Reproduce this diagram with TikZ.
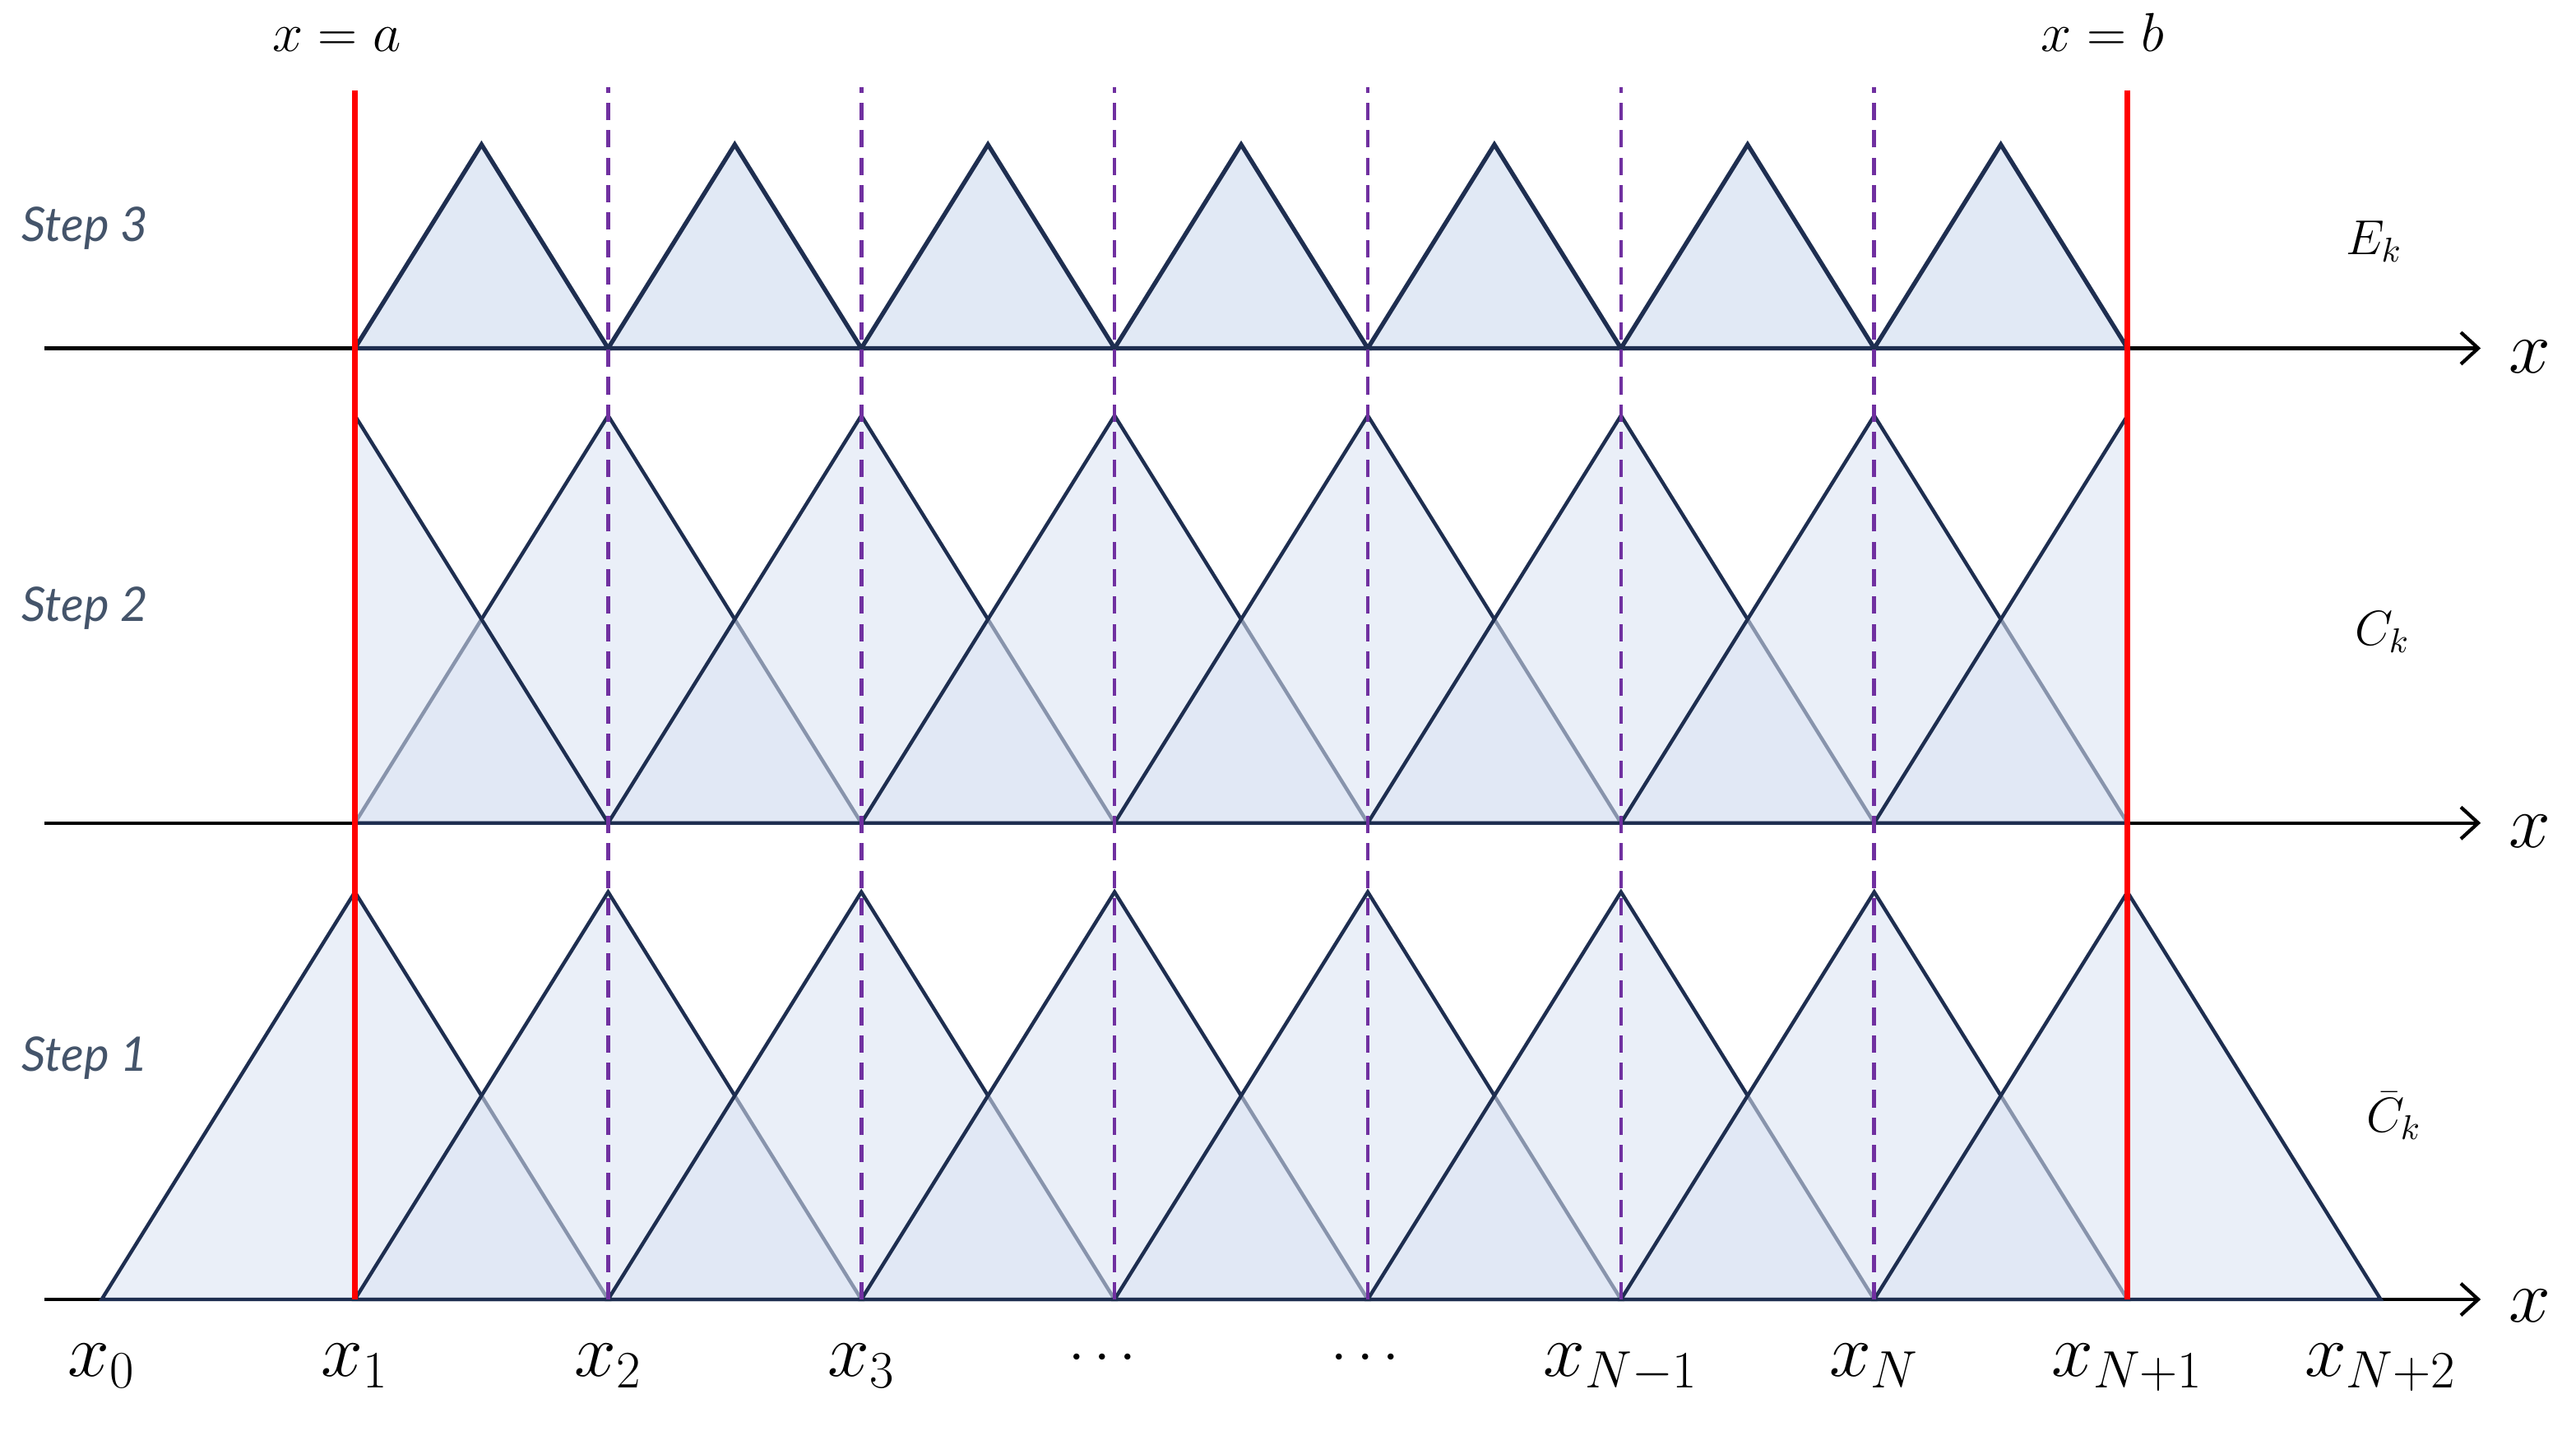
\RequirePackage{fix-cm}
\documentclass[tikz,border=0pt]{standalone}
\usepackage{fontspec}
\newfontfamily\stepfont{Lato}
\usetikzlibrary{arrows.meta}
\definecolor{navy}{HTML}{1E2E50}
\definecolor{hatfill}{HTML}{DAE3F3}
\definecolor{gridpurple}{HTML}{7030A0}
\definecolor{steptext}{HTML}{44546A}

\begin{document}
\begin{tikzpicture}[declare function={px(\i)=1.238+3.0826*\i; ya=1.6; yb=7.4; yc=13.18; t=4.96;},
	hat/.style={fill=hatfill, fill opacity=0.57, draw=navy, line width=1.25pt},
	tooth/.style={fill=hatfill, fill opacity=0.8, draw=navy, line width=1.5pt},
	axis/.style={line width=1.2pt, -{Straight Barb[length=6pt,width=11pt]}},
	steplbl/.style={anchor=base west, text=steptext, font=\stepfont\itshape\fontsize{16.5}{18}\selectfont},
	tick/.style={anchor=base, font=\fontsize{26}{28}\selectfont},
	fnlbl/.style={anchor=base, font=\fontsize{17}{19}\selectfont}]
	\useasboundingbox (0,0) rectangle (31.36,17.42);
	\foreach \y in {ya,yb,yc}
		\draw[axis] (0.54,\y) -- (30.2,\y);
	% step 1
	\foreach \i in {1,...,8}
		\filldraw[hat] ({px(\i-1)},ya) -- ({px(\i)},{ya+t}) -- ({px(\i+1)},ya) -- cycle;
	% step 2
	\foreach \i in {2,...,7}
		\filldraw[hat] ({px(\i-1)},yb) -- ({px(\i)},{yb+t}) -- ({px(\i+1)},yb) -- cycle;
	\filldraw[hat] ({px(7)},yb) -- ({px(8)},{yb+t}) -- ({px(8)},yb) -- cycle;
	\filldraw[hat] ({px(1)},{yb+t}) -- ({px(2)},yb) -- ({px(1)},yb) -- cycle;
	% step 3
	\foreach \i in {1,...,7}
		\filldraw[tooth] ({px(\i)},yc) -- ({px(\i+0.5)},{yc+t/2}) -- ({px(\i+1)},yc) -- cycle;
	\foreach \i in {2,...,7}
		\draw[gridpurple, line width=1.3pt, dash pattern=on 6pt off 3.5pt] ({px(\i)},ya) -- ({px(\i)},16.36);
	\foreach \i in {1,8}
		\draw[red, line width=1.9pt] ({px(\i)},ya) -- ({px(\i)},16.32);

	\node[steplbl] (step3) at (0.14,14.48) {Step 3};
	\node[steplbl] (step2) at (0.14,9.86) {Step 2};
	\node[steplbl] (step1) at (0.14,4.38) {Step 1};
	\node[fnlbl] (ek) at (28.9,14.32) {$E_k$};
	\node[fnlbl] (ck) at (29.0,9.56) {$C_k$};
	\node[fnlbl] (cbark) at (29.14,3.64) {$\bar{C}_k$};
	\node[anchor=base, font=\fontsize{19}{21}\selectfont] (xa) at (4.1,16.79) {$x = a$};
	\node[anchor=base, font=\fontsize{19}{21}\selectfont] (xb) at (25.6,16.79) {$x = b$};
	\foreach \y/\n in {1.32/1,7.10/2,12.88/3}
		\node[tick] (ax\n) at (30.8,\y) {$x$};
	\foreach \i/\t in {0/x_0,1/x_1,2/x_2,3/x_3,6/x_{N-1},7/x_N,8/x_{N+1},9/x_{N+2}}
		\node[tick] (n\i) at ({px(\i)},0.66) {$\t$};
	\node[tick, font=\fontsize{20}{22}\selectfont] (dots1) at (13.42,0.72) {$\cdots$};
	\node[tick, font=\fontsize{20}{22}\selectfont] (dots2) at (16.62,0.72) {$\cdots$};
\end{tikzpicture}
\end{document}
